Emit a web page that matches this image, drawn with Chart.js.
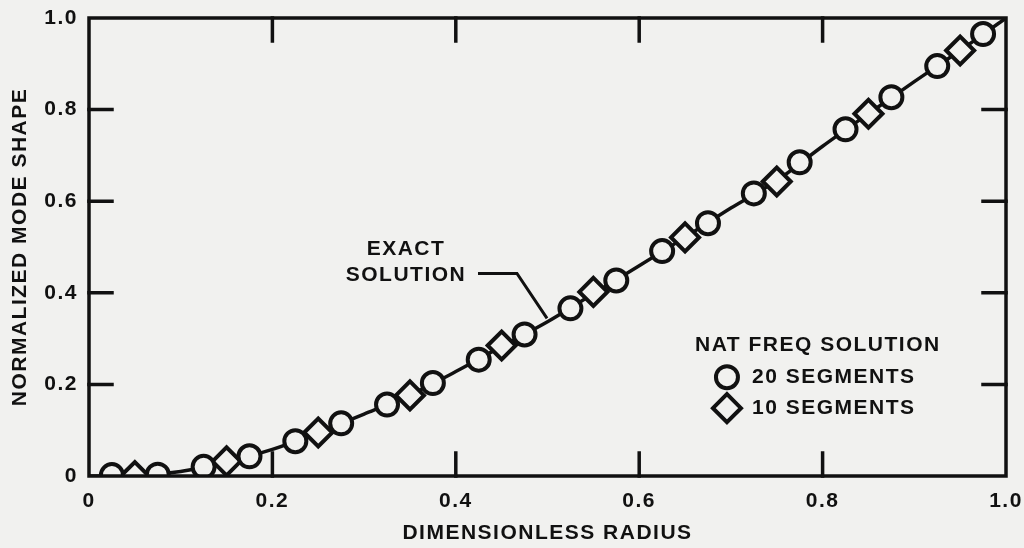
<!DOCTYPE html>
<html><head><meta charset="utf-8">
<script src="https://cdn.jsdelivr.net/npm/chart.js@4/dist/chart.umd.min.js"></script>
<style>html,body{margin:0;padding:0;background:#f1f1ef;}#wrap{width:1024px;height:548px;position:relative}</style>
</head><body><div id="wrap"><canvas id="c" width="1024" height="548"></canvas></div>
<script>
const xTicks = [0, 0.2, 0.4, 0.6, 0.8, 1.0];
const yTicks = [0, 0.2, 0.4, 0.6, 0.8, 1.0];
const seg20X = [0.025,0.075,0.125,0.175,0.225,0.275,0.325,0.375,0.425,0.475,0.525,0.575,0.625,0.675,0.725,0.775,0.825,0.875,0.925,0.975];
const seg20Y = [0.002,0.003,0.02,0.043,0.076,0.115,0.156,0.203,0.254,0.309,0.366,0.427,0.491,0.552,0.617,0.685,0.757,0.827,0.895,0.965];
const seg10X = [0.05,0.15,0.25,0.35,0.45,0.55,0.65,0.75,0.85,0.95];
const seg10Y = [0.0,0.032,0.095,0.176,0.285,0.402,0.521,0.643,0.791,0.929];
const exactX = [0,0.05,0.1,0.15,0.2,0.25,0.3,0.35,0.4,0.45,0.5,0.55,0.6,0.65,0.7,0.75,0.8,0.85,0.9,0.95,1.0];
const exactY = [0,0.001,0.01,0.031,0.058,0.095,0.135,0.177,0.228,0.283,0.337,0.398,0.459,0.521,0.585,0.645,0.72,0.791,0.861,0.929,1.0];
const xTitle = 'DIMENSIONLESS RADIUS';
const yTitle = 'NORMALIZED MODE SHAPE';
const legendTitle = 'NAT FREQ SOLUTION';
const legendLabels = ['20 SEGMENTS', '10 SEGMENTS'];
const noteLines = ['EXACT', 'SOLUTION'];

const INK = '#111111';
const BG = '#f1f1ef';
const FONT = '"Liberation Sans", Arial, Helvetica, sans-serif';
const FS = 21;
const SPACING = '1.5px';

const pts = (xs, ys) => xs.map((x, i) => ({x: x, y: ys[i]}));
const zeroPad = s => { s.paddingLeft = 0; s.paddingRight = 0; s.paddingTop = 0; s.paddingBottom = 0; };

const decor = {
  id: 'decor',
  beforeLayout(chart) { chart.ctx.letterSpacing = SPACING; },
  beforeDraw(chart) {
    const ctx = chart.ctx;
    ctx.letterSpacing = SPACING;
    ctx.save();
    ctx.fillStyle = BG;
    ctx.fillRect(0, 0, chart.width, chart.height);
    ctx.restore();
  },
  afterDatasetsDraw(chart) {
    const ctx = chart.ctx, a = chart.chartArea;
    const xs = chart.scales.x, ys = chart.scales.y;
    const L = 23;
    ctx.save();
    ctx.strokeStyle = INK;
    ctx.lineWidth = 3.5;
    ctx.lineCap = 'square';
    ctx.strokeRect(a.left, a.top, a.right - a.left, a.bottom - a.top);
    ctx.beginPath();
    xTicks.slice(1, -1).forEach(v => {
      const px = xs.getPixelForValue(v);
      ctx.moveTo(px, a.bottom); ctx.lineTo(px, a.bottom - L);
      ctx.moveTo(px, a.top); ctx.lineTo(px, a.top + L);
    });
    yTicks.slice(1, -1).forEach(v => {
      const py = ys.getPixelForValue(v);
      ctx.moveTo(a.left, py); ctx.lineTo(a.left + L, py);
      ctx.moveTo(a.right, py); ctx.lineTo(a.right - L, py);
    });
    ctx.stroke();
    ctx.restore();
  },
  afterDraw(chart) {
    const ctx = chart.ctx;
    const X = v => chart.scales.x.getPixelForValue(v);
    const Y = v => chart.scales.y.getPixelForValue(v);
    ctx.save();
    ctx.letterSpacing = SPACING;
    ctx.fillStyle = INK;
    ctx.strokeStyle = INK;
    ctx.font = 'bold ' + FS + 'px ' + FONT;
    ctx.textBaseline = 'middle';
    // annotation
    ctx.textAlign = 'center';
    ctx.fillText(noteLines[0], X(0.3457), Y(0.4946));
    ctx.fillText(noteLines[1], X(0.3457), Y(0.439));
    ctx.lineWidth = 3;
    ctx.beginPath();
    ctx.moveTo(X(0.4242), Y(0.4423));
    ctx.lineTo(X(0.4667), Y(0.4423));
    ctx.lineTo(X(0.4995), Y(0.3442));
    ctx.stroke();
    // legend
    ctx.textAlign = 'left';
    ctx.fillText(legendTitle, X(0.6609), Y(0.2854));
    const lx = X(0.6957);
    const styles = ['circle', 'rectRot'];
    const radii = [11, 14];
    const ly = [Y(0.2157), Y(0.1481)];
    ctx.fillStyle = BG;
    ctx.lineWidth = 4;
    styles.forEach((s, i) => {
      Chart.helpers.drawPoint(ctx, {pointStyle: s, radius: radii[i], rotation: 0, borderWidth: 4}, lx, ly[i]);
    });
    ctx.fillStyle = INK;
    legendLabels.forEach((t, i) => ctx.fillText(t, X(0.723), ly[i]));
    ctx.restore();
  }
};

const tickFmt = v => (v === 0 ? '0' : Number(v).toFixed(1));

new Chart(document.getElementById('c'), {
  type: 'scatter',
  data: {
    datasets: [
      {label: 'Exact solution', data: pts(exactX, exactY), showLine: true, tension: 0.4, cubicInterpolationMode: 'monotone',
        borderColor: INK, borderWidth: 3.5, pointRadius: 0, order: 3},
      {label: '10 segments', data: pts(seg10X, seg10Y), pointStyle: 'rectRot', pointRadius: 14,
        backgroundColor: BG, borderColor: INK, borderWidth: 4, order: 2},
      {label: '20 segments', data: pts(seg20X, seg20Y), pointStyle: 'circle', pointRadius: 11,
        backgroundColor: BG, borderColor: INK, borderWidth: 4, order: 1}
    ]
  },
  options: {
    responsive: false,
    devicePixelRatio: 1,
    animation: false,
    events: [],
    layout: {padding: {top: 17, right: 18, left: 0, bottom: 0}},
    plugins: {legend: {display: false}, tooltip: {enabled: false}},
    scales: {
      x: {
        type: 'linear', min: 0, max: 1,
        afterBuildTicks: s => { s.ticks = xTicks.map(v => ({value: v})); },
        afterFit: s => { s.height = 72; zeroPad(s); },
        grid: {display: false, drawTicks: false},
        border: {display: false},
        ticks: {color: INK, font: {family: FONT, size: FS, weight: 'bold'}, padding: 13, maxRotation: 0, autoSkip: false, callback: tickFmt},
        title: {display: true, text: xTitle, color: INK, font: {family: FONT, size: FS, weight: 'bold'}, padding: {top: 0, bottom: 2}}
      },
      y: {
        type: 'linear', min: 0, max: 1,
        afterBuildTicks: s => { s.ticks = yTicks.map(v => ({value: v})); },
        afterFit: s => { s.width = 89; zeroPad(s); },
        grid: {display: false, drawTicks: false},
        border: {display: false},
        ticks: {color: INK, font: {family: FONT, size: FS, weight: 'bold'}, padding: 11, autoSkip: false, callback: tickFmt},
        title: {display: true, text: yTitle, color: INK, font: {family: FONT, size: FS, weight: 'bold'}, padding: {top: 8, bottom: 0}}
      }
    }
  },
  plugins: [decor]
});
</script>
</body></html>
